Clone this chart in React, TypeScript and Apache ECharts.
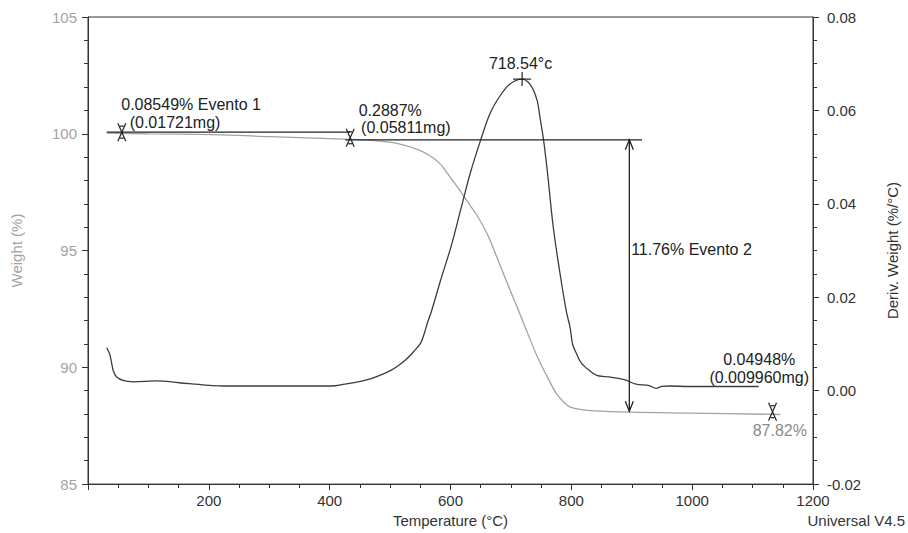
import React, { useEffect, useRef } from "react";
import * as echarts from "echarts";

// Weight (%) curve, left axis
const wTemp = [31, 100, 205, 300, 425, 470, 513, 546, 568, 584, 595, 612, 628, 644, 661, 677, 694, 710, 727, 743, 760, 776, 790, 798, 815, 831, 897, 1000, 1146];
const wVal = [100.03, 100.0, 99.96, 99.88, 99.77, 99.72, 99.58, 99.32, 99.03, 98.68, 98.3, 97.7, 97.1, 96.5, 95.7, 94.7, 93.6, 92.6, 91.5, 90.5, 89.6, 88.85, 88.45, 88.3, 88.2, 88.15, 88.08, 88.04, 87.98];

// Deriv. weight (%/°C) curve, right axis
const dTemp = [31, 36, 39, 42, 47, 58, 75, 113, 151, 195, 233, 316, 403, 425, 447, 469, 502, 524, 540, 551, 557, 562, 568, 584, 601, 617, 633, 650, 666, 683, 699, 718, 732, 743, 748, 754, 760, 770, 781, 792, 798, 802, 809, 816, 830, 842, 858, 886, 907, 929, 940, 950, 962, 995, 1110];
const dVal = [0.0092, 0.0078, 0.006, 0.0042, 0.003, 0.0022, 0.0019, 0.0021, 0.0017, 0.0012, 0.001, 0.001, 0.001, 0.0014, 0.0019, 0.0026, 0.0044, 0.0064, 0.0085, 0.0103, 0.0124, 0.0146, 0.0168, 0.0238, 0.0309, 0.0388, 0.0467, 0.0537, 0.0595, 0.0633, 0.0657, 0.0667, 0.0655, 0.0623, 0.0586, 0.0537, 0.0473, 0.0351, 0.0253, 0.0168, 0.0135, 0.01, 0.0078, 0.006, 0.0043, 0.0033, 0.003, 0.0024, 0.0014, 0.0011, 0.0005, 0.0009, 0.001, 0.0009, 0.0009];

// Step analysis lines (weight %)
const step1T = [31, 434];
const step1W = 100.07;
const step2T = [426, 917];
const step2W = 99.74;

// Event-2 arrow: temperature, top weight, bottom weight
const arrowT = 896;
const arrowTop = 99.74;
const arrowBottom = 88.12;

// Step markers (temperature, weight)
const markT = [56, 434, 1133];
const markW = [100.07, 99.83, 88.1];

// Peak marker on derivative curve
const peakT = 718.54;
const peakD = 0.0667;

// Annotation texts anchored in (temperature, weight) coordinates
const annoTexts = ["0.08549% Evento 1", "(0.01721mg)", "0.2887%", "(0.05811mg)", "718.54°c", "11.76% Evento 2", "0.04948%", "(0.009960mg)", "87.82%"];
const annoT = [55, 69, 448, 452, 716, 899, 1111, 1111, 1190];
const annoW = [101.24, 100.47, 100.98, 100.29, 102.99, 95.04, 90.34, 89.56, 87.28];
const annoAlign = ["left", "left", "left", "left", "center", "left", "center", "center", "right"];
const annoColor = ["#222", "#222", "#222", "#222", "#222", "#222", "#222", "#222", "#8a8a8a"];

const FONT = '"Liberation Sans", Arial, Helvetica, sans-serif';
const FS = 15;
const AFS = 16;
const DARK = "#333";
const GRAY = "#a3a3a3";

export default function App() {
  const ref = useRef<HTMLDivElement>(null);

  useEffect(() => {
    if (!ref.current) return;
    const chart = echarts.init(ref.current, null, { renderer: "svg" });

    const weightData = wTemp.map((t, i) => [t, wVal[i]]);
    const derivData = dTemp.map((t, i) => [t, dVal[i]]);
    const markData = markT.map((t, i) => [t, markW[i]]);
    const annoData = annoT.map((t, i) => [t, annoW[i]]);

    const option: any = {
      animation: false,
      backgroundColor: "#fff",
      textStyle: { fontFamily: FONT },
      grid: {
        left: 88,
        right: 90,
        top: 17,
        bottom: 48,
        show: true,
        borderColor: DARK,
        borderWidth: 1,
        backgroundColor: "transparent",
      },
      xAxis: {
        type: "value",
        min: 0,
        max: 1200,
        interval: 200,
        name: "Temperature (°C)",
        nameLocation: "middle",
        nameGap: 28,
        nameTextStyle: { color: DARK, fontSize: FS, fontFamily: FONT },
        axisLine: { show: true, onZero: false, lineStyle: { color: DARK, width: 1 } },
        axisTick: { show: true, inside: false, length: 6, lineStyle: { color: DARK } },
        minorTick: { show: true, splitNumber: 4, length: 4, lineStyle: { color: DARK } },
        splitLine: { show: false },
        axisLabel: {
          color: DARK,
          fontSize: FS,
          fontFamily: FONT,
          margin: 9,
          showMinLabel: false,
          formatter: (v: number) => String(v),
        },
      },
      yAxis: [
        {
          type: "value",
          position: "left",
          min: 85,
          max: 105,
          interval: 5,
          name: "Weight (%)",
          nameLocation: "middle",
          nameRotate: 90,
          nameGap: 64,
          nameTextStyle: { color: GRAY, fontSize: FS, fontFamily: FONT },
          axisLine: { show: true, onZero: false, lineStyle: { color: DARK, width: 1 } },
          axisTick: { show: true, inside: false, length: 6, lineStyle: { color: DARK } },
          minorTick: { show: true, splitNumber: 5, length: 4, lineStyle: { color: DARK } },
          splitLine: { show: false },
          axisLabel: { color: GRAY, fontSize: FS, fontFamily: FONT, margin: 11 },
        },
        {
          type: "value",
          position: "right",
          min: -0.02,
          max: 0.08,
          interval: 0.02,
          name: "Deriv. Weight (%/°C)",
          nameLocation: "middle",
          nameRotate: 90,
          nameGap: 72,
          nameTextStyle: { color: DARK, fontSize: FS, fontFamily: FONT },
          axisLine: { show: true, onZero: false, lineStyle: { color: DARK, width: 1 } },
          axisTick: { show: true, inside: false, length: 6, lineStyle: { color: DARK } },
          minorTick: { show: true, splitNumber: 4, length: 4, lineStyle: { color: DARK } },
          splitLine: { show: false },
          axisLabel: {
            color: DARK,
            fontSize: FS,
            fontFamily: FONT,
            margin: 14,
            formatter: (v: number) => v.toFixed(2),
          },
        },
      ],
      graphic: [
        {
          type: "text",
          right: 3,
          top: 513,
          style: { text: "Universal V4.5", fill: DARK, fontSize: FS, fontFamily: FONT },
        },
      ],
      series: [
        {
          name: "Weight",
          type: "line",
          yAxisIndex: 0,
          data: weightData,
          symbol: "none",
          smooth: 0.35,
          lineStyle: { color: GRAY, width: 1.3 },
          z: 2,
        },
        {
          name: "Deriv. Weight",
          type: "line",
          yAxisIndex: 1,
          data: derivData,
          symbol: "none",
          smooth: 0.35,
          lineStyle: { color: "#3c3c3c", width: 1.3 },
          z: 3,
        },
        {
          name: "Step 1",
          type: "line",
          yAxisIndex: 0,
          data: step1T.map((t) => [t, step1W]),
          symbol: "none",
          lineStyle: { color: "#222", width: 1.3 },
          z: 4,
        },
        {
          name: "Step 2",
          type: "line",
          yAxisIndex: 0,
          data: step2T.map((t) => [t, step2W]),
          symbol: "none",
          lineStyle: { color: "#222", width: 1.3 },
          z: 4,
        },
        {
          name: "Arrow",
          type: "custom",
          yAxisIndex: 0,
          clip: false,
          data: [[arrowT, arrowTop, arrowBottom]],
          renderItem: (params: any, api: any) => {
            const p1 = api.coord([api.value(0), api.value(1)]);
            const p2 = api.coord([api.value(0), api.value(2)]);
            const st = { stroke: "#222", lineWidth: 1.3, fill: "none" };
            return {
              type: "group",
              children: [
                { type: "line", shape: { x1: p1[0], y1: p1[1], x2: p2[0], y2: p2[1] }, style: st },
                { type: "polyline", shape: { points: [[p1[0] - 4, p1[1] + 10], [p1[0], p1[1]], [p1[0] + 4, p1[1] + 10]] }, style: st },
                { type: "polyline", shape: { points: [[p2[0] - 4, p2[1] - 10], [p2[0], p2[1]], [p2[0] + 4, p2[1] - 10]] }, style: st },
              ],
            };
          },
          z: 5,
        },
        {
          name: "Markers",
          type: "custom",
          yAxisIndex: 0,
          clip: false,
          data: markData,
          renderItem: (params: any, api: any) => {
            const p = api.coord([api.value(0), api.value(1)]);
            const st = { stroke: "#222", lineWidth: 1.2, fill: "none" };
            const hw = 4;
            const hh = 9;
            return {
              type: "group",
              children: [
                { type: "line", shape: { x1: p[0] - hw, y1: p[1] - hh, x2: p[0] + hw, y2: p[1] + hh }, style: st },
                { type: "line", shape: { x1: p[0] + hw, y1: p[1] - hh, x2: p[0] - hw, y2: p[1] + hh }, style: st },
                { type: "line", shape: { x1: p[0] - 2, y1: p[1] - hh + 3, x2: p[0] + 2, y2: p[1] - hh + 3 }, style: st },
                { type: "line", shape: { x1: p[0] - 2, y1: p[1] + hh - 3, x2: p[0] + 2, y2: p[1] + hh - 3 }, style: st },
              ],
            };
          },
          z: 6,
        },
        {
          name: "Peak",
          type: "custom",
          yAxisIndex: 1,
          clip: false,
          data: [[peakT, peakD]],
          renderItem: (params: any, api: any) => {
            const p = api.coord([api.value(0), api.value(1)]);
            const st = { stroke: "#222", lineWidth: 1.2, fill: "none" };
            return {
              type: "group",
              children: [
                { type: "line", shape: { x1: p[0] - 9, y1: p[1], x2: p[0] + 9, y2: p[1] }, style: st },
                { type: "line", shape: { x1: p[0], y1: p[1] - 7, x2: p[0], y2: p[1] + 7 }, style: st },
              ],
            };
          },
          z: 6,
        },
        {
          name: "Annotations",
          type: "custom",
          yAxisIndex: 0,
          clip: false,
          data: annoData,
          renderItem: (params: any, api: any) => {
            const i = params.dataIndex;
            const p = api.coord([api.value(0), api.value(1)]);
            return {
              type: "text",
              x: p[0],
              y: p[1],
              style: {
                text: annoTexts[i],
                fill: annoColor[i],
                fontSize: AFS,
                fontFamily: FONT,
                align: annoAlign[i],
                verticalAlign: "middle",
              },
            };
          },
          z: 7,
        },
      ],
    };

    chart.setOption(option);
    return () => chart.dispose();
  }, []);

  return (
    <div
      ref={ref}
      style={{ position: "absolute", left: 0, top: 0, width: 908, height: 533, background: "#fff" }}
    />
  );
}
